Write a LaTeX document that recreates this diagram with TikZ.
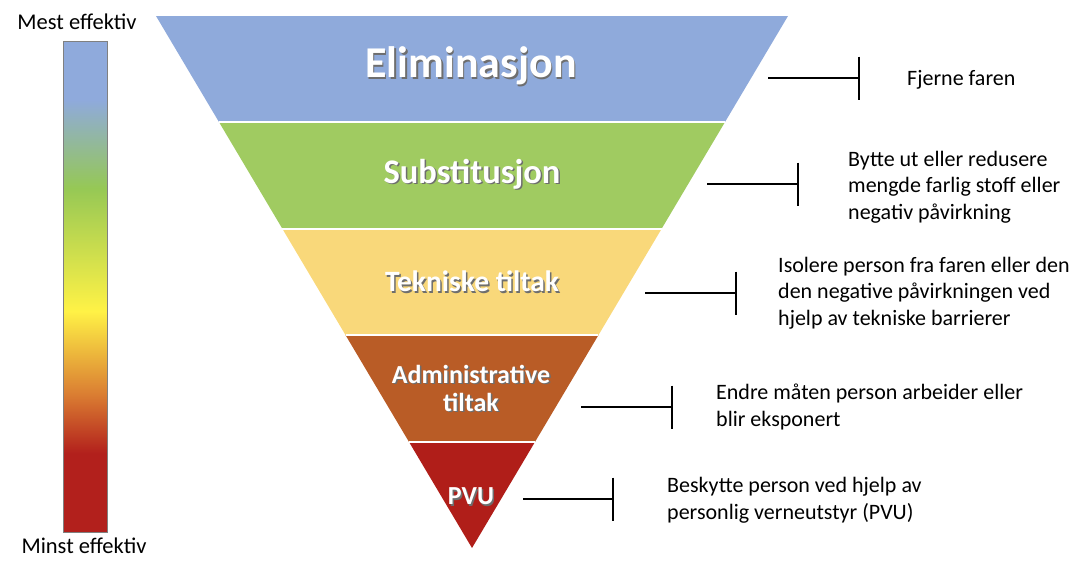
\documentclass[tikz,border=0pt]{standalone}
\usepackage{fontspec}
\setmainfont{Carlito}
\usetikzlibrary{arrows.meta,calc}

\definecolor{elimcol}{RGB}{143,170,219}
\definecolor{substcol}{RGB}{160,203,97}
\definecolor{tekncol}{RGB}{249,216,122}
\definecolor{admincol}{RGB}{185,92,38}
\definecolor{pvucol}{RGB}{176,30,25}
\definecolor{shadowcol}{RGB}{110,110,110}
\definecolor{barred}{RGB}{178,32,28}
\definecolor{barorange}{RGB}{218,125,50}
\definecolor{baryellow}{RGB}{255,242,70}
\definecolor{bargreen}{RGB}{150,200,85}
\definecolor{barblue}{RGB}{143,170,220}

\pgfdeclareverticalshading{effgrad}{100bp}{color(0bp)=(barred); color(33bp)=(barred);
  color(39bp)=(barorange); color(47.5bp)=(baryellow); color(60bp)=(bargreen);
  color(69bp)=(barblue); color(100bp)=(barblue)}

\newcommand{\shd}[1]{\makebox[0pt][l]{\hspace{1.5pt}\raisebox{-1.5pt}{\textcolor{shadowcol}{#1}}}#1}

\tikzset{
  layertext/.style={text=white, align=center, inner sep=0pt},
  link/.style={line width=1.6pt, -{Bar[width=43pt]}},
  desc/.style={anchor=west, inner sep=0pt, align=left, font=\fontsize{22}{26.5}\selectfont},
  scalelabel/.style={inner sep=0pt, font=\fontsize{22.5}{26}\selectfont},
}

\begin{document}
\begin{tikzpicture}[x=1pt, y=-1pt]
    \useasboundingbox (0,0) rectangle (1081,560);

    % scale bar
    \shade[shading=effgrad, draw=gray, line width=1pt] (63,41) rectangle (107,532);
    \node[scalelabel] (mest) at (77,22) {Mest effektiv};
    \node[scalelabel] (minst) at (84,546) {Minst effektiv};

    % inverted pyramid
    \coordinate (tl) at (156,16);
    \coordinate (tr) at (788,16);
    \coordinate (ap) at (472,548);
    \foreach \a/\b/\c in {0/0.2/elimcol, 0.2/0.4/substcol, 0.4/0.6/tekncol, 0.6/0.8/admincol}
        \fill[\c] ($(tl)!\a!(ap)$) -- ($(tr)!\a!(ap)$) -- ($(tr)!\b!(ap)$) -- ($(tl)!\b!(ap)$) -- cycle;
    \fill[pvucol] ($(tl)!0.8!(ap)$) -- ($(tr)!0.8!(ap)$) -- (ap) -- cycle;
    \foreach \a in {0.2, 0.4, 0.6, 0.8}
        \draw[white, line width=2pt] ($(tl)!\a!(ap)$) -- ($(tr)!\a!(ap)$);

    \node[layertext, font=\bfseries\fontsize{44}{48}\selectfont] (elim) at (471,67) {\shd{Eliminasjon}};
    \node[layertext, font=\bfseries\fontsize{34.5}{38}\selectfont] (subst) at (472,175) {\shd{Substitusjon}};
    \node[layertext, font=\bfseries\fontsize{29.5}{33}\selectfont] (tekn) at (472,282) {\shd{Tekniske tiltak}};
    \node[layertext, font=\bfseries\fontsize{26}{28}\selectfont] (admin) at (471,389) {\shd{Administrative}\\\shd{tiltak}};
    \node[layertext, font=\bfseries\fontsize{26}{28}\selectfont] (pvu) at (471,497) {\shd{PVU}};

    % connectors
    \coordinate (c1) at (768,78);  \coordinate (d1) at (860,78);
    \coordinate (c2) at (707,184); \coordinate (d2) at (799,184);
    \coordinate (c3) at (645,293); \coordinate (d3) at (737,293);
    \coordinate (c4) at (581,407); \coordinate (d4) at (673,407);
    \coordinate (c5) at (523,499); \coordinate (d5) at (614,499);
    \draw[link] (c1) -- (d1);
    \draw[link] (c2) -- (d2);
    \draw[link] (c3) -- (d3);
    \draw[link] (c4) -- (d4);
    \draw[link] (c5) -- (d5);

    \node[desc] (t1) at (907,80) {Fjerne faren};
    \node[desc] (t2) at (848,187) {Bytte ut eller redusere\\mengde farlig stoff eller\\negativ påvirkning};
    \node[desc] (t3) at (778,293) {Isolere person fra faren eller den\\den negative påvirkningen ved\\hjelp av tekniske barrierer};
    \node[desc] (t4) at (716,407) {Endre måten person arbeider eller\\blir eksponert};
    \node[desc] (t5) at (667,500) {Beskytte person ved hjelp av\\personlig verneutstyr (PVU)};
\end{tikzpicture}
\end{document}
